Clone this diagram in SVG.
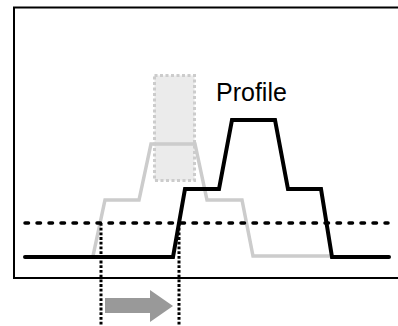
<svg xmlns="http://www.w3.org/2000/svg" width="398" height="326" viewBox="0 0 398 326">
<style>
.frame{fill:none;stroke:#000;stroke-width:2}
.ghost{fill:none;stroke:#ccc;stroke-width:3.5;stroke-linejoin:miter}
.prof{fill:none;stroke:#000;stroke-width:4;stroke-linecap:round;stroke-linejoin:miter}
.thr{fill:none;stroke:#000;stroke-width:3.5;stroke-dasharray:3.5 8.5;stroke-linecap:round}
.vdot{fill:none;stroke:#000;stroke-width:3;stroke-dasharray:2.8 1.9}
.win{fill:#ebebeb;stroke:#ccc;stroke-width:3;stroke-dasharray:3 2.5}
.lbl{font-family:"Liberation Sans",Arial,sans-serif;font-size:25px;fill:#000}
</style>
<rect width="398" height="326" fill="#fff"/>
<g id="frame"><rect class="frame" x="14" y="7.5" width="400" height="270.5"/></g>
<g id="window"><rect class="win" x="154.5" y="75.5" width="40" height="105"/></g>
<g id="ghost-profile"><polyline class="ghost" points="93,256 105,200 139,200 151,144 195,144 207,200 242,200 253,256 332,256"/></g>
<g id="connectors">
<line class="thr" x1="25" y1="223" x2="388" y2="223"/>
<line class="vdot" x1="101" y1="223" x2="101" y2="326"/>
<line class="vdot" x1="179" y1="223" x2="179" y2="326"/>
</g>
<g id="profile"><polyline class="prof" points="25,257 173,257 185,189 219,189 232,120 275,120 288,189 321,189 332,257 389,257"/></g>
<g id="arrow"><polygon points="105,298 150,298 150,290 173,306 150,322 150,313 105,313" fill="#999"/></g>
<g id="label"><text class="lbl" x="216" y="100.5">Profile</text></g>
</svg>
